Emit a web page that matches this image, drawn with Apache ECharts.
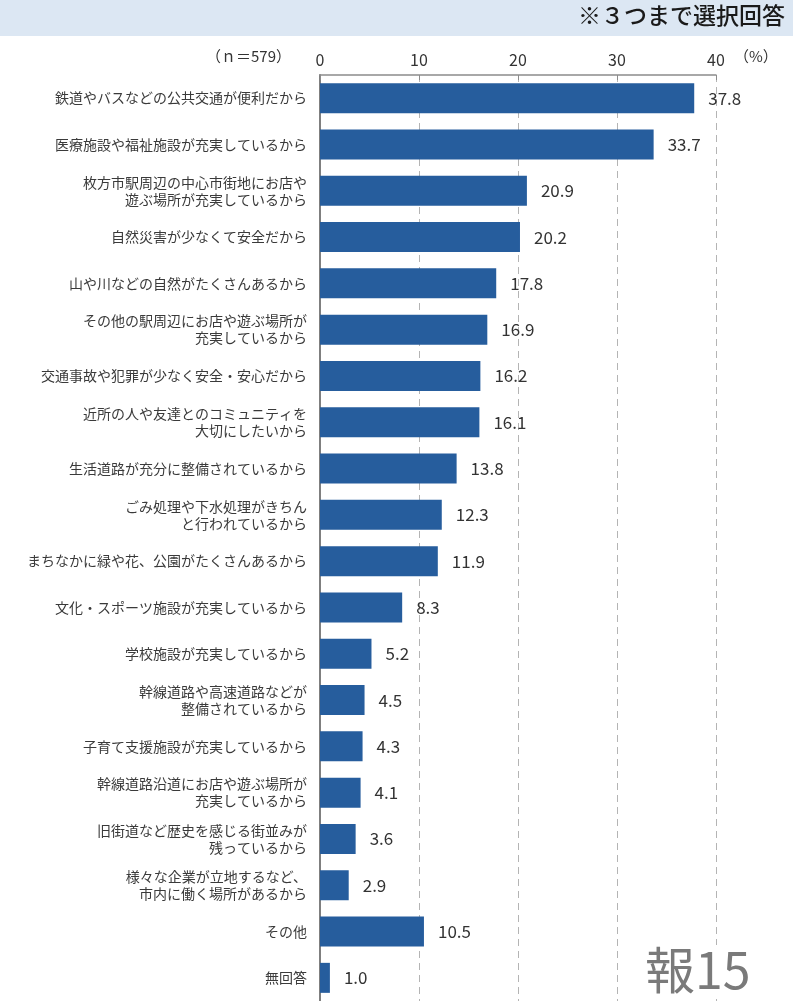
<!DOCTYPE html>
<html>
<head>
<meta charset="utf-8">
<script src="https://cdn.jsdelivr.net/npm/echarts@6/dist/echarts.min.js"></script>
<style>
html,body{margin:0;padding:0;background:#fff;}
#chart{width:793px;height:1001px;}
</style>
</head>
<body>
<div id="chart"></div>
<script>
// 項目（上から順）
var categories = [
    '鉄道やバスなどの公共交通が便利だから',
    '医療施設や福祉施設が充実しているから',
    '枚方市駅周辺の中心市街地にお店や\n遊ぶ場所が充実しているから',
    '自然災害が少なくて安全だから',
    '山や川などの自然がたくさんあるから',
    'その他の駅周辺にお店や遊ぶ場所が\n充実しているから',
    '交通事故や犯罪が少なく安全・安心だから',
    '近所の人や友達とのコミュニティを\n大切にしたいから',
    '生活道路が充分に整備されているから',
    'ごみ処理や下水処理がきちん\nと行われているから',
    'まちなかに緑や花、公園がたくさんあるから',
    '文化・スポーツ施設が充実しているから',
    '学校施設が充実しているから',
    '幹線道路や高速道路などが\n整備されているから',
    '子育て支援施設が充実しているから',
    '幹線道路沿道にお店や遊ぶ場所が\n充実しているから',
    '旧街道など歴史を感じる街並みが\n残っているから',
    '様々な企業が立地するなど、\n市内に働く場所があるから',
    'その他',
    '無回答'
];
var values = [37.8, 33.7, 20.9, 20.2, 17.8, 16.9, 16.2, 16.1, 13.8, 12.3,
              11.9, 8.3, 5.2, 4.5, 4.3, 4.1, 3.6, 2.9, 10.5, 1.0];
var xTicks = [0, 10, 20, 30, 40];

var font = '"Noto Sans CJK JP", sans-serif';
var myChart = echarts.init(document.getElementById('chart'));

var option = {
    backgroundColor: '#fff',
    animation: false,
    grid: {
        left: 320,
        right: 77,
        top: 75,
        height: 929
    },
    xAxis: {
        type: 'value',
        position: 'top',
        min: xTicks[0],
        max: xTicks[xTicks.length - 1],
        interval: 10,
        axisLine: { show: true, lineStyle: { color: '#8c8c8c', width: 1.5 } },
        axisTick: { show: true, inside: true, length: 5, lineStyle: { color: '#8c8c8c' } },
        axisLabel: { color: '#333', fontSize: 16, fontFamily: font, margin: 7 },
        splitLine: { show: true, lineStyle: { color: '#b4b4b4', type: [7, 5], width: 1 } }
    },
    yAxis: {
        type: 'category',
        inverse: true,
        data: categories,
        axisLine: { show: true, lineStyle: { color: '#7f7f7f', width: 2 } },
        axisTick: { show: false },
        axisLabel: {
            color: '#3a3a3a',
            fontSize: 14,
            fontFamily: font,
            lineHeight: 17,
            margin: 13,
            align: 'right'
        }
    },
    series: [
        {
            name: '割合',
            type: 'bar',
            data: values,
            barWidth: 30,
            itemStyle: { color: '#265d9d' },
            label: {
                show: true,
                position: 'right',
                distance: 14,
                color: '#333',
                fontSize: 17,
                fontFamily: font,
                formatter: function (p) { return p.value.toFixed(1); }
            }
        }
    ],
    graphic: [
        {
            type: 'rect',
            left: 0, top: 0,
            shape: { width: 793, height: 36 },
            style: { fill: '#dce7f3' },
            z: 10
        },
        {
            type: 'text',
            right: 8, top: 4,
            style: { text: '※３つまで選択回答', fill: '#1a1a1a', font: '500 23px ' + font },
            z: 11
        },
        {
            type: 'text',
            left: 206, top: 49,
            style: { text: '（ｎ＝579）', fill: '#333', font: '15px ' + font },
            z: 11
        },
        {
            type: 'text',
            left: 734, top: 49,
            style: { text: '（%）', fill: '#333', font: '15px ' + font },
            z: 11
        },
        {
            type: 'text',
            left: 645, top: 945,
            style: {
                text: '報15',
                fill: '#7a7a7a',
                font: '50px ' + font,
                backgroundColor: '#fff'
            },
            z: 11
        }
    ]
};
myChart.setOption(option);
</script>
</body>
</html>
